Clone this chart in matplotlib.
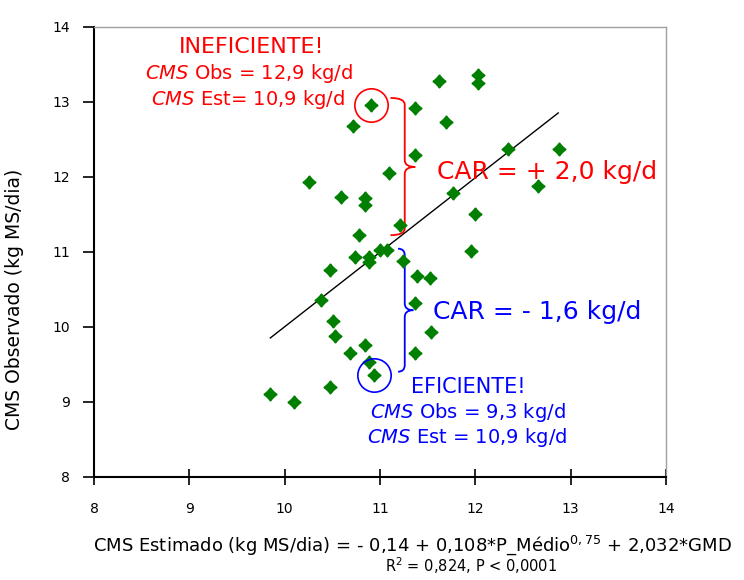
import matplotlib
matplotlib.use("Agg")
import matplotlib.pyplot as plt
from matplotlib.path import Path
from matplotlib.patches import PathPatch

# CMS estimado (x) vs CMS observado (y), kg MS/dia
cms_est = [10.91, 10.72, 11.37, 11.37, 11.10, 10.26, 10.59, 10.84, 10.84, 11.21,
           10.78, 11.62, 12.03, 12.03, 11.69, 12.34, 12.88, 12.66, 11.77, 12.00,
           10.74, 10.88, 10.88, 11.00, 11.07, 11.24, 10.48, 10.38, 10.51, 10.53,
           10.84, 10.69, 10.89, 10.94, 10.48, 9.85, 10.10, 11.95, 11.39, 11.53,
           11.37, 11.54, 11.37]
cms_obs = [12.95, 12.67, 12.92, 12.29, 12.05, 11.93, 11.73, 11.71, 11.62, 11.35,
           11.22, 13.28, 13.36, 13.25, 12.73, 12.37, 12.37, 11.88, 11.78, 11.50,
           10.93, 10.93, 10.86, 11.02, 11.02, 10.87, 10.75, 10.35, 10.08, 9.88,
           9.76, 9.65, 9.53, 9.35, 9.19, 9.10, 9.00, 11.01, 10.67, 10.65,
           10.32, 9.93, 9.65]

line_x = [9.85, 12.87]
line_y = [9.85, 12.85]

# pontos destacados
inef = (10.91, 12.95)
efic = (10.94, 9.35)

ticks = [8, 9, 10, 11, 12, 13, 14]

fig = plt.figure(figsize=(7.44, 5.8), dpi=100)
ax = fig.add_axes([0.1263, 0.1781, 0.7688, 0.7759])

ax.plot(line_x, line_y, color="black", lw=1)
ax.plot(cms_est, cms_obs, ls="none", marker="D", ms=6,
        color="#007f00", mec="#007f00")
ax.plot(cms_est, cms_obs, ls="none", marker=(4, 1, 0), ms=9.5,
        color="#007f00", mec="#007f00")

# circulos
ax.plot(*inef, marker="o", ms=24, mfc="none", mec="red", mew=1.2)
ax.plot(*efic, marker="o", ms=24, mfc="none", mec="blue", mew=1.2)


def brace(x0, xv, xc, ytop, ym, ybot, color):
    d = 0.09
    verts = [(x0, ytop), (xv, ytop), (xv, ytop - d),
             (xv, ym + d), (xv, ym), (xc, ym),
             (xc, ym), (xv, ym), (xv, ym - d),
             (xv, ybot + d), (xv, ybot), (x0, ybot)]
    codes = [Path.MOVETO, Path.CURVE3, Path.CURVE3,
             Path.LINETO, Path.CURVE3, Path.CURVE3,
             Path.MOVETO, Path.CURVE3, Path.CURVE3,
             Path.LINETO, Path.CURVE3, Path.CURVE3]
    ax.add_patch(PathPatch(Path(verts, codes), fc="none", ec=color, lw=1.3))


brace(11.11, 11.26, 11.37, 13.05, 12.13, 11.22, "red")
brace(11.19, 11.26, 11.35, 11.04, 10.22, 9.40, "blue")

ax.text(9.65, 13.73, "INEFICIENTE!", color="red", fontsize=16, ha="center", va="center")
ax.text(9.63, 13.38, r"$\it{CMS}$ Obs = 12,9 kg/d", color="red", fontsize=14,
        ha="center", va="center")
ax.text(9.62, 13.03, r"$\it{CMS}$ Est= 10,9 kg/d", color="red", fontsize=14,
        ha="center", va="center")
ax.text(11.60, 12.06, "CAR = + 2,0 kg/d", color="red", fontsize=18, ha="left", va="center")
ax.text(11.56, 10.20, "CAR = - 1,6 kg/d", color="blue", fontsize=18, ha="left", va="center")
ax.text(11.93, 9.20, "EFICIENTE!", color="blue", fontsize=15, ha="center", va="center")
ax.text(11.92, 8.85, r"$\it{CMS}$ Obs = 9,3 kg/d", color="blue", fontsize=14,
        ha="center", va="center")
ax.text(11.92, 8.52, r"$\it{CMS}$ Est = 10,9 kg/d", color="blue", fontsize=14,
        ha="center", va="center")

ax.set_xlim(8, 14)
ax.set_ylim(8, 14)
ax.set_xticks(ticks)
ax.set_yticks(ticks)
ax.tick_params(axis="x", direction="inout", length=12, width=1.2, pad=12, labelsize=10)
ax.tick_params(axis="y", direction="out", length=8, width=1.2, pad=9, labelsize=10)

for s in ["top", "right"]:
    ax.spines[s].set_color("#a0a0a0")
    ax.spines[s].set_linewidth(1)
for s in ["left", "bottom"]:
    ax.spines[s].set_color("black")
    ax.spines[s].set_linewidth(1.5)

ax.set_ylabel("CMS Observado (kg MS/dia)", fontsize=13.5)
ax.yaxis.set_label_coords(-0.122, 0.393)
fig.text(0.554, 0.060, r"CMS Estimado (kg MS/dia) = - 0,14 + 0,108*P_Médio$^{0,75}$ + 2,032*GMD",
         fontsize=13, ha="center", va="center")
fig.text(0.633, 0.024, r"R$^2$ = 0,824, P < 0,0001", fontsize=10.5, ha="center", va="center")

fig.savefig("out.png", dpi=100)
